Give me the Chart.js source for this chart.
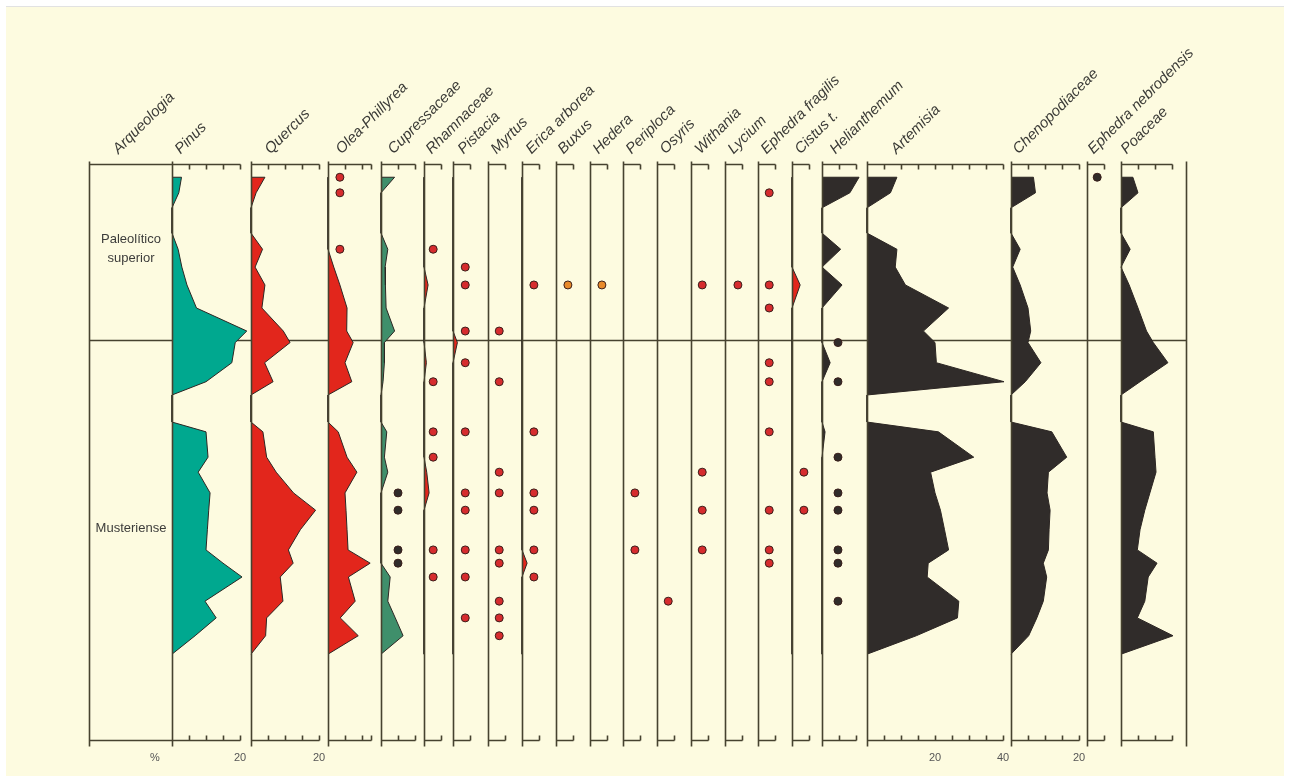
<!DOCTYPE html>
<html>
<head>
<meta charset="utf-8">
<script src="https://cdn.jsdelivr.net/npm/chart.js@4"></script>
<style>
  body { margin:0; background:#fff; }
  #page { position:relative; width:1290px; height:776px; overflow:hidden; font-family:"Liberation Sans", Arial, sans-serif; }
  #sheet { position:absolute; left:6px; top:6px; width:1278px; height:770px; background:#fdfbe0; border-top:1px solid #e2e2e2; }
  canvas { position:absolute; }
  .hdr { position:absolute; font:italic 15px/15px "Liberation Sans", Arial, sans-serif; color:#3a3a36; white-space:nowrap; transform-origin:0 100%; transform:rotate(-45deg); }
  .unit { position:absolute; font:11px "Liberation Sans", Arial, sans-serif; color:#555; }
</style>
</head>
<body>
<div id="page"><div id="sheet"></div></div>
<script>
// sample levels (depth units, 0 = top of diagram, 100 = bottom)
const depths = [2.3, 5, 7.6, 12, 14.8, 17.9, 21, 25, 29, 31, 34.5, 37.8, 40.1,
                44.8, 46.5, 50.9, 53.5, 57.1, 60.1, 63.5, 67, 69.3, 71.7, 75.9, 78.8, 81.9, 85.1];
const zoneBoundary = 30.6;
const zoneNames = [['Paleolítico', 'superior'], ['Musteriense']];
const zoneLabelDepths = [14.7, 63.2];

const taxa = ['Arqueologia', 'Pinus', 'Quercus', 'Olea-Phillyrea', 'Cupressaceae', 'Rhamnaceae', 'Pistacia',
  'Myrtus', 'Erica arborea', 'Buxus', 'Hedera', 'Periploca', 'Osyris', 'Withania', 'Lycium',
  'Ephedra fragilis', 'Cistus t.', 'Helianthemum', 'Artemisia', 'Chenopodiaceae', 'Ephedra nebrodensis', 'Poaceae'];

// percentages per level
const pinus          = [2.8, 2.0, 0, 0, 1.8, 2.9, 4.4, 7.2, 22, 18.6, 17.6, 10, 0,  0, 10, 10.6, 7.7, 11.2, 10.8, 10.4, 10, 15, 20.6, 9.7, 13, 6.8, 0];
const quercus        = [4.1, 1.5, 0, 0, 3.4, 1.2, 4.1, 3.2, 9.5, 11.5, 4, 6.5, 0,  0, 3.5, 4.6, 7.4, 12.5, 19, 14.5, 11, 12.4, 8.6, 9.4, 4.6, 4.3, 0];
const olea           = [0, 0, 0, 0, 0, 1.7, 3.5, 5.6, 5.5, 7.4, 5, 7, 0,  0, 3, 5.6, 8.5, 5, 5.3, 5.6, 5.9, 12.4, 6, 8, 3.6, 8.9, 0];
const cupressaceae   = [4, 0, 0, 0, 2, 1.2, 1.3, 1.5, 4, 1, 1, 0.6, 0,  0, 1.7, 1, 2, 0, 0, 0, 0, 0, 2.7, 2, 4.2, 6.5, 0];
const rhamnaceae     = [0, 0, 0, 0, 0, 0, 1.2, 0, 0, 0, 0.7, 0, 0,  0, 0, 0, 0.8, 1.5, 0, 0, 0, 0, 0, 0, 0, 0, 0];
const pistacia       = [0, 0, 0, 0, 0, 0, 0, 0, 0, 1.3, 0, 0, 0,  0, 0, 0, 0, 0, 0, 0, 0, 0, 0, 0, 0, 0, 0];
const erica          = [0, 0, 0, 0, 0, 0, 0, 0, 0, 0, 0, 0, 0,  0, 0, 0, 0, 0, 0, 0, 0, 1.5, 0, 0, 0, 0, 0];
const cistus         = [0, 0, 0, 0, 0, 0, 2.4, 0, 0, 0, 0, 0, 0,  0, 0, 0, 0, 0, 0, 0, 0, 0, 0, 0, 0, 0, 0];
const helianthemum   = [10.9, 8.2, 0, 0, 5.5, 0, 5.9, 0, 0, 0, 2.4, 0, 0,  0, 0.9, 0, 0, 0, 0, 0, 0, 0, 0, 0, 0, 0, 0];
const artemisia      = [8.8, 6.9, 0, 0, 8.8, 8.3, 11.3, 24, 16.6, 20, 20.4, 40.3, 0,  0, 21, 31.4, 18.7, 20, 21.6, 22.8, 24, 18, 17.7, 27, 26.6, 14.5, 0];
const chenopodiaceae = [6.6, 7.2, 0, 0, 2.7, 0.5, 2.7, 5, 5.8, 5, 8.8, 4.2, 0,  0, 12, 16.4, 11, 10.6, 11.5, 11.2, 11, 9.5, 10.5, 9.5, 7.6, 5.2, 0];
const poaceae        = [3.5, 5, 0, 0, 2.7, 0, 2.4, 5, 7.5, 9.5, 13.8, 5.6, 0,  0, 9.5, 10, 10.3, 8.5, 7, 5.6, 4.8, 10.6, 8, 7, 4.8, 15.3, 0];

// presence (<1%) markers, depths
const oleaDots         = [2.3, 5, 14.8];
const cupressaceaeDots = [57.1, 60.1, 67, 69.3];
const rhamnaceaeDots   = [14.8, 37.8, 46.5, 50.9, 67, 71.7];
const pistaciaDots     = [17.9, 21, 29, 34.5, 46.5, 57.1, 60.1, 67, 71.7, 78.8];
const myrtusDots       = [29, 37.8, 53.5, 57.1, 67, 69.3, 75.9, 78.8, 81.9];
const ericaDots        = [21, 46.5, 57.1, 60.1, 67, 71.7];
const buxusDots        = [21];
const hederaDots       = [21];
const periplocaDots    = [57.1, 67];
const osyrisDots       = [75.9];
const withaniaDots     = [21, 53.5, 60.1, 67];
const lyciumDots       = [21];
const ephedraFragDots  = [5, 21, 25, 34.5, 37.8, 46.5, 60.1, 67, 69.3];
const cistusDots       = [53.5, 60.1];
const helianthemumDots = [31, 37.8, 50.9, 57.1, 60.1, 67, 69.3, 75.9];
const ephedraNebDots   = [2.3];

// layout
const colLeft = [89, 172, 251, 328, 381, 424, 453, 488, 522, 556, 590, 623, 657, 691, 725, 758, 792, 822, 867, 1011, 1087, 1121, 1186];
const headerX = [120, 182, 272, 343, 395, 433, 465, 498, 533, 565, 600, 633, 667, 702, 735, 768, 802, 837, 898, 1020, 1095, 1128];
const PX_PER_PCT = 3.4;
const TOP = 150, H = 615, AREA_TOP = 164, AREA_BOTTOM = 740;
const LINE = '#46422f', TEAL = '#00a88f', RED = '#e2261c', GREEN = '#3f8f6b', BLACK = '#302c2a';
const DOT_RED = '#d62c2e', DOT_ORANGE = '#e88a2a';

const cols = [
  {kind: 'label'},
  {kind: 'axis', axisMax: 20, ticks: [5, 10, 15, 20], labels: [20], curve: pinus, fill: TEAL},
  {kind: 'axis', axisMax: 20, ticks: [5, 10, 15, 20], labels: [20], curve: quercus, fill: RED},
  {kind: 'axis', axisMax: 12.5, ticks: [5, 10, 12.5], curve: olea, fill: RED, dots: oleaDots, dotX: 3.5, dotColor: DOT_RED},
  {kind: 'axis', axisMax: 10, ticks: [5, 10], curve: cupressaceae, fill: GREEN, dots: cupressaceaeDots, dotX: 5, dotColor: BLACK},
  {kind: 'axis', axisMax: 5, ticks: [5], curve: rhamnaceae, fill: RED, dots: rhamnaceaeDots, dotX: 2.7, dotColor: DOT_RED},
  {kind: 'axis', axisMax: 5, ticks: [5], curve: pistacia, fill: RED, dots: pistaciaDots, dotX: 3.6, dotColor: DOT_RED},
  {kind: 'axis', axisMax: 5, ticks: [5], dots: myrtusDots, dotX: 3.3, dotColor: DOT_RED},
  {kind: 'axis', axisMax: 5, ticks: [5], curve: erica, fill: RED, dots: ericaDots, dotX: 3.5, dotColor: DOT_RED},
  {kind: 'axis', axisMax: 5, ticks: [5], dots: buxusDots, dotX: 3.5, dotColor: DOT_ORANGE},
  {kind: 'axis', axisMax: 5, ticks: [5], dots: hederaDots, dotX: 3.5, dotColor: DOT_ORANGE},
  {kind: 'axis', axisMax: 5, ticks: [5], dots: periplocaDots, dotX: 3.5, dotColor: DOT_RED},
  {kind: 'axis', axisMax: 5, ticks: [5], dots: osyrisDots, dotX: 3.3, dotColor: DOT_RED},
  {kind: 'axis', axisMax: 5, ticks: [5], dots: withaniaDots, dotX: 3.3, dotColor: DOT_RED},
  {kind: 'axis', axisMax: 5, ticks: [5], dots: lyciumDots, dotX: 3.8, dotColor: DOT_RED},
  {kind: 'axis', axisMax: 5, ticks: [5], dots: ephedraFragDots, dotX: 3.3, dotColor: DOT_RED},
  {kind: 'axis', axisMax: 5, ticks: [5], curve: cistus, fill: RED, dots: cistusDots, dotX: 3.5, dotColor: DOT_RED},
  {kind: 'axis', axisMax: 10, ticks: [5, 10], curve: helianthemum, fill: BLACK, dots: helianthemumDots, dotX: 4.7, dotColor: BLACK},
  {kind: 'axis', axisMax: 40, ticks: [5, 10, 15, 20, 25, 30, 35, 40], labels: [20, 40], curve: artemisia, fill: BLACK},
  {kind: 'axis', axisMax: 20, ticks: [5, 10, 15, 20], labels: [20], curve: chenopodiaceae, fill: BLACK},
  {kind: 'axis', axisMax: 5, ticks: [5], dots: ephedraNebDots, dotX: 3, dotColor: BLACK},
  {kind: 'axis', axisMax: 15, ticks: [5, 10, 15], curve: poaceae, fill: BLACK},
  {kind: 'end'}
];

function profile(vals){
  const pts = [{x: 0, y: depths[0]}];
  vals.forEach((v, i) => pts.push({x: v, y: depths[i]}));
  pts.push({x: 0, y: depths[depths.length - 1]});
  return pts;
}

const crisp = v => Math.round(v) + 0.5;

const framePlugin = {
  id: 'frame',
  beforeDatasetsDraw(chart, args, o){
    if (o.kind === 'end') return;
    const {ctx, chartArea: ca, scales: {y}} = chart;
    const yy = crisp(y.getPixelForValue(zoneBoundary));
    ctx.save();
    ctx.strokeStyle = LINE; ctx.lineWidth = 1.6;
    ctx.beginPath(); ctx.moveTo(ca.left, yy); ctx.lineTo(ca.left + o.span, yy); ctx.stroke();
    ctx.restore();
  },
  afterDatasetsDraw(chart, args, o){
    const {ctx, chartArea: ca, scales: {x, y}} = chart;
    const x0 = crisp(x.getPixelForValue(0));
    const yt = crisp(ca.top), yb = crisp(ca.bottom);
    ctx.save();
    ctx.strokeStyle = LINE; ctx.lineWidth = 1.6;
    ctx.beginPath();
    ctx.moveTo(x0, yt - 3); ctx.lineTo(x0, yb + 6);
    if (o.kind === 'label'){
      ctx.moveTo(x0, yt); ctx.lineTo(x0 + o.span, yt);
      ctx.moveTo(x0, yb); ctx.lineTo(x0 + o.span, yb);
    } else if (o.kind === 'axis'){
      const xe = crisp(x.getPixelForValue(o.axisMax));
      ctx.moveTo(x0, yt); ctx.lineTo(xe, yt);
      ctx.moveTo(x0, yb); ctx.lineTo(xe, yb);
      o.ticks.forEach(t => {
        const xt = crisp(x.getPixelForValue(t));
        ctx.moveTo(xt, yt); ctx.lineTo(xt, yt + 5);
        ctx.moveTo(xt, yb); ctx.lineTo(xt, yb - 5);
      });
    }
    ctx.stroke();
    ctx.fillStyle = '#555';
    ctx.font = '11px "Liberation Sans", Arial, sans-serif';
    ctx.textAlign = 'center'; ctx.textBaseline = 'middle';
    (o.labels || []).forEach(v => ctx.fillText(String(v), x.getPixelForValue(v), ca.bottom + 18));
    if (o.kind === 'label'){
      ctx.fillStyle = '#3c3c3a';
      ctx.font = '13px "Liberation Sans", Arial, sans-serif';
      const cx = x0 + o.span / 2;
      zoneNames.forEach((lines, i) => {
        const yc = y.getPixelForValue(zoneLabelDepths[i]);
        lines.forEach((s, j) => ctx.fillText(s, cx, yc + (j - (lines.length - 1) / 2) * 19));
      });
    }
    ctx.restore();
  }
};

const page = document.getElementById('page');

cols.forEach((c, i) => {
  const L = colLeft[i];
  const span = i < colLeft.length - 1 ? colLeft[i + 1] - L : 4;
  const areaW = c.kind === 'axis' ? span - 3 : span;
  const width = span + 16;
  const cv = document.createElement('canvas');
  cv.width = width; cv.height = H;
  cv.style.left = (L - 8) + 'px'; cv.style.top = TOP + 'px';
  page.appendChild(cv);

  const datasets = [];
  if (c.curve){
    datasets.push({
      data: profile(c.curve), showLine: true, fill: 'shape', tension: 0,
      backgroundColor: c.fill, borderColor: '#2c2623', borderWidth: 1,
      pointRadius: 0, clip: false
    });
  }
  if (c.dots){
    datasets.push({
      data: c.dots.map(d => ({x: c.dotX, y: d})), showLine: false,
      pointRadius: 4, pointBackgroundColor: c.dotColor, pointBorderColor: '#3a1e1a',
      pointBorderWidth: 1, clip: false
    });
  }

  new Chart(cv, {
    type: 'scatter',
    data: {datasets},
    options: {
      responsive: false, animation: false, events: [],
      layout: {padding: {left: 8, right: width - 8 - areaW, top: AREA_TOP - TOP, bottom: TOP + H - AREA_BOTTOM}},
      scales: {
        x: {type: 'linear', min: 0, max: areaW / PX_PER_PCT, display: false},
        y: {type: 'linear', reverse: true, min: 0, max: 100, display: false}
      },
      plugins: {
        legend: {display: false}, tooltip: {enabled: false},
        frame: {kind: c.kind, span, axisMax: c.axisMax, ticks: c.ticks || [], labels: c.labels || []}
      }
    },
    plugins: [framePlugin]
  });
});

// rotated taxon headers
taxa.forEach((t, i) => {
  const s = document.createElement('div');
  s.className = 'hdr';
  s.textContent = t;
  s.style.left = headerX[i] + 'px';
  s.style.top = '141px';
  page.appendChild(s);
});

const pct = document.createElement('div');
pct.className = 'unit';
pct.textContent = '%';
pct.style.left = '150px'; pct.style.top = '751px';
page.appendChild(pct);
</script>
</body>
</html>
